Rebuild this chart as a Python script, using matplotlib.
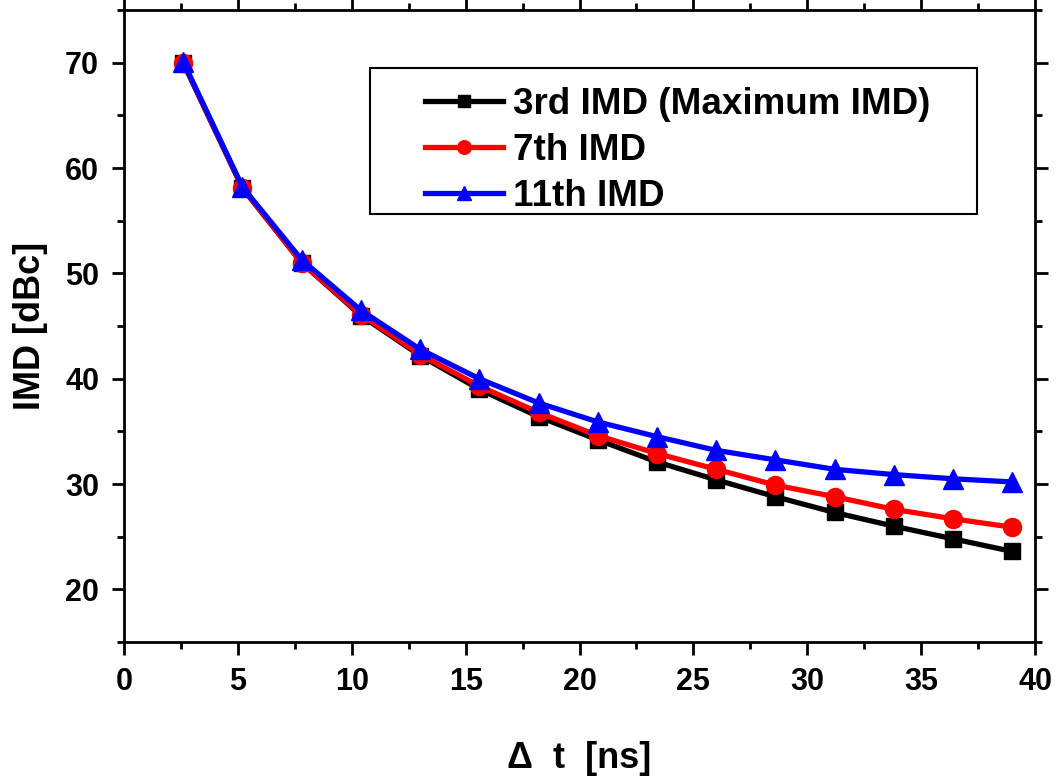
import matplotlib.pyplot as plt
from matplotlib.patches import Rectangle
from matplotlib.ticker import MultipleLocator

plt.rcParams['font.family'] = ['Liberation Sans', 'DejaVu Sans']
plt.rcParams['font.weight'] = 'bold'

# Datos
dt = [2.6, 5.2, 7.8, 10.4, 13.0, 15.6, 18.2, 20.8, 23.4, 26.0, 28.6, 31.2, 33.8, 36.4, 39.0]
imd3 = [70.0, 58.1, 51.0, 46.0, 42.2, 39.0, 36.4, 34.2, 32.1, 30.4, 28.8, 27.3, 26.0, 24.8, 23.6]
imd7 = [70.0, 58.1, 51.0, 46.1, 42.3, 39.3, 36.8, 34.6, 32.9, 31.4, 29.9, 28.8, 27.6, 26.7, 25.9]
imd11 = [70.1, 58.2, 51.3, 46.5, 42.8, 40.0, 37.7, 35.9, 34.5, 33.2, 32.3, 31.4, 30.9, 30.5, 30.2]

fig = plt.figure(figsize=(10.63, 7.82), dpi=100)
ax = fig.add_axes([0.1167, 0.179, 0.857, 0.808])

ax.plot(dt, imd3, color='black', marker='s', markersize=11, linewidth=3.8, label='3rd IMD (Maximum IMD)')
ax.plot(dt, imd7, color='red', marker='o', markersize=13, linewidth=3.8, label='7th IMD')
ax.plot(dt, imd11, color='blue', marker='^', markersize=14, linewidth=3.8, label='11th IMD')

ax.set_xlim(0, 40)
ax.set_ylim(15, 75)
ax.xaxis.set_major_locator(MultipleLocator(5))
ax.xaxis.set_minor_locator(MultipleLocator(2.5))
ax.yaxis.set_minor_locator(MultipleLocator(5))
ax.set_yticks([20, 30, 40, 50, 60, 70])

ax.tick_params(which='both', direction='out', top=True, right=True, width=2, labelsize=22)
ax.tick_params(which='major', length=9, pad=9)
ax.tick_params(which='minor', length=5)
for s in ax.spines.values():
    s.set_linewidth(2)

ax.set_xlabel('Δ  t  [ns]', fontsize=26, fontweight='bold', labelpad=32)
ax.set_ylabel('IMD [dBc]', fontsize=26, fontweight='bold', labelpad=12)

# leyenda sin marco + recuadro aparte (como en Origin)
leg = ax.legend(loc='upper left', bbox_to_anchor=(0.330, 0.878), fontsize=26.5, frameon=False,
                handlelength=2.12, borderpad=0, labelspacing=0.30, handletextpad=0.27,
                markerscale=0.75, borderaxespad=0)
ax.add_patch(Rectangle((0.270, 0.677), 0.666, 0.231, transform=ax.transAxes,
                       fill=False, edgecolor='black', linewidth=1.5, zorder=5))

fig.savefig('out.png', dpi=100)
